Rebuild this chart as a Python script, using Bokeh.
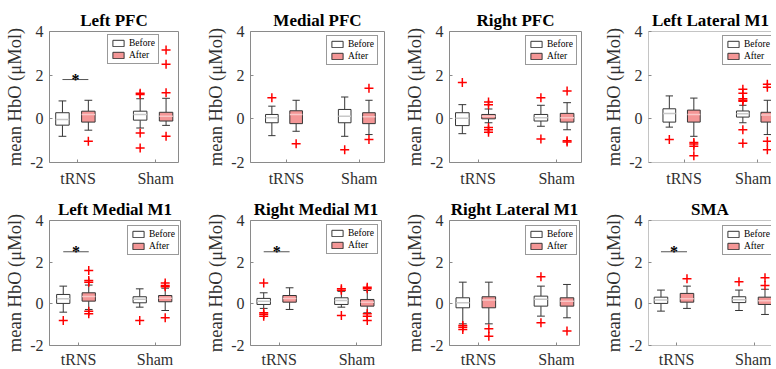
from bokeh.plotting import figure
from bokeh.layouts import gridplot
from bokeh.models import Range1d, FixedTicker, Legend, LegendItem, ColumnDataSource, Span
from bokeh.embed import file_html
from bokeh.resources import INLINE
from bokeh.core.properties import value

# ---------------- data ----------------
TITLES = ["Left PFC", "Medial PFC", "Right PFC", "Left Lateral M1",
          "Left Medial M1", "Right Medial M1", "Right Lateral M1", "SMA"]
GROUP_LABELS = ["tRNS", "Sham"]
GROUP_TICKS = [1.6, 4.6]
CONDITIONS = ["Before", "After"]
# box order: tRNS-Before, tRNS-After, Sham-Before, Sham-After
BOX_POS = [1, 2, 4, 5]
BOX_COND = ["Before", "After", "Before", "After"]
Y_TICKS = [-2, 0, 2, 4]
Y_LABEL = "mean HbO (\u03bcMol)"

# [lower whisker, q1, median, q3, upper whisker]
LEFT_PFC = [[-0.80, -0.29, -0.03, 0.28, 0.82], [-0.52, -0.15, 0.20, 0.35, 0.85],
            [-0.42, -0.06, 0.20, 0.35, 0.92], [-0.30, -0.10, 0.12, 0.30, 0.94]]
LEFT_PFC_OUT = [[], [-1.03], [1.17, 1.12, -0.65, -1.34], [3.15, 2.50, 1.20, -0.80]]

MEDIAL_PFC = [[-0.77, -0.18, 0.05, 0.20, 0.58], [-0.57, -0.22, 0.20, 0.37, 0.85],
              [-0.80, -0.18, 0.12, 0.43, 1.00], [-0.72, -0.22, 0.10, 0.28, 0.85]]
MEDIAL_PFC_OUT = [[0.97], [-1.14], [-1.42], [1.40, -0.95]]

RIGHT_PFC = [[-0.68, -0.31, 0.03, 0.28, 0.65], [-0.18, 0.00, 0.12, 0.20, 0.45],
             [-0.34, -0.10, 0.05, 0.20, 0.62], [-0.50, -0.15, 0.05, 0.25, 0.74]]
RIGHT_PFC_OUT = [[1.66], [0.77, 0.65, -0.40, -0.50, -0.62], [0.97, -0.92], [1.28, -1.00, -1.06]]

LEFT_LAT_M1 = [[-0.38, -0.15, 0.25, 0.46, 1.05], [-0.80, -0.15, 0.20, 0.40, 0.95],
               [-0.18, 0.08, 0.23, 0.36, 0.62], [-0.72, -0.15, 0.18, 0.30, 0.85]]
LEFT_LAT_M1_OUT = [[-0.95], [-1.08, -1.15, -1.26, -1.69],
                   [1.35, 1.17, 0.92, 0.85, 0.80, -0.50, -1.12], [1.58, 1.45, -1.03, -1.42]]

LEFT_MED_M1 = [[-0.40, 0.02, 0.24, 0.45, 0.85], [-0.27, 0.13, 0.35, 0.53, 0.90],
               [-0.16, 0.05, 0.22, 0.34, 0.72], [-0.32, 0.10, 0.27, 0.40, 0.75]]
LEFT_MED_M1_OUT = [[-0.80], [1.60, 1.12, 1.04, -0.35, -0.48], [-0.80], [1.00, 0.88, 0.82, -0.67]]

RIGHT_MED_M1 = [[-0.22, -0.03, 0.13, 0.26, 0.53], [-0.27, 0.08, 0.26, 0.40, 0.77],
                [-0.16, -0.03, 0.16, 0.29, 0.60], [-0.43, -0.11, 0.08, 0.21, 0.64]]
RIGHT_MED_M1_OUT = [[1.00, -0.43, -0.50, -0.60], [], [0.72, 0.65, -0.56], [0.80, 0.72, -0.48, -0.60, -0.80]]

RIGHT_LAT_M1 = [[-0.96, -0.19, 0.05, 0.29, 1.04], [-0.96, -0.19, 0.18, 0.34, 1.04],
                [-0.59, -0.11, 0.22, 0.37, 0.85], [-0.67, -0.11, 0.13, 0.29, 0.93]]
RIGHT_LAT_M1_OUT = [[-1.04, -1.12, -1.23], [-1.20, -1.55], [1.30, -0.91], [-1.30]]

SMA = [[-0.35, 0.02, 0.18, 0.32, 0.66], [-0.22, 0.08, 0.25, 0.50, 0.85],
       [-0.32, 0.06, 0.20, 0.34, 0.66], [-0.51, -0.03, 0.15, 0.32, 0.70]]
SMA_OUT = [[], [1.20], [1.06], [1.25, 0.88]]

STATS = [LEFT_PFC, MEDIAL_PFC, RIGHT_PFC, LEFT_LAT_M1, LEFT_MED_M1, RIGHT_MED_M1, RIGHT_LAT_M1, SMA]
OUTLIERS = [LEFT_PFC_OUT, MEDIAL_PFC_OUT, RIGHT_PFC_OUT, LEFT_LAT_M1_OUT,
            LEFT_MED_M1_OUT, RIGHT_MED_M1_OUT, RIGHT_LAT_M1_OUT, SMA_OUT]
# significance bar (tRNS Before vs After) height, None = no bar
SIG_LEVEL = [1.8, None, None, None, 2.5, 2.5, None, 2.5]

# ---------------- layout / style ----------------
FONT = "Liberation Serif"
X_RANGES = [(0.50, 5.48), (0.12, 5.64), (0.51, 5.55), (0.15, 5.21),
            (0.46, 5.60), (0.49, 5.55), (0.49, 5.48), (0.52, 5.25)]
FW = [129, 134, 132, 124, 131, 131, 130, 123]
FH = [131, 125]
ML = [46, 46, 47, 47, 44, 46, 47, 48]
MR = [23, 18, 19, 0, 23, 21, 21, 0]
MT = [24, 21]
MB = [34, 25]
XSTANDOFF = [7, 5]
LEG_LOC = [(58, 98), (76, 97), (76, 97), (75, 97),
           (78, 90), (76, 91), (76, 90), (74, 90)]

BOX_W = 0.52
CAP_W = 0.30
EDGE = "#353535"
FILL = {"Before": "#ffffff", "After": "#f49696"}
MED = {"Before": "#c8c8c8", "After": "#f9c8c8"}
FRAME = "#8a8a8a"
TXT = "#303030"


def make_panel(i):
    r = i // 4
    c = i % 4
    xs, xe = X_RANGES[i]
    p = figure(frame_width=FW[i], frame_height=FH[r],
               x_range=Range1d(xs, xe), y_range=Range1d(-2, 4),
               output_backend="svg", toolbar_location=None, tools="",
               min_border_left=ML[i], min_border_right=MR[i],
               min_border_top=MT[r], min_border_bottom=MB[r])
    p.background_fill_color = "white"
    p.border_fill_color = "white"
    p.xgrid.visible = False
    p.ygrid.visible = False

    if c == 3:
        # right border is outside the visible window in the reference
        p.outline_line_color = None
        for loc in (-2, 4):
            p.add_layout(Span(location=loc, dimension="width", line_color=FRAME, line_width=1))
        p.add_layout(Span(location=xs, dimension="height", line_color=FRAME, line_width=1))
    else:
        p.outline_line_color = FRAME
        p.outline_line_width = 1

    # title
    p.title.text = TITLES[i]
    p.title.align = "center"
    p.title.text_font = FONT
    p.title.text_font_size = "17px"
    p.title.text_font_style = "bold"
    p.title.text_color = "black"
    p.title.standoff = 3

    # axes
    p.xaxis.ticker = FixedTicker(ticks=GROUP_TICKS)
    p.xaxis.major_label_overrides = {t: l for t, l in zip(GROUP_TICKS, GROUP_LABELS)}
    p.yaxis.ticker = FixedTicker(ticks=Y_TICKS)
    p.yaxis.major_label_overrides = {t: str(t) for t in Y_TICKS}
    for ax in (p.xaxis[0], p.yaxis[0]):
        ax.axis_line_color = None
        ax.major_tick_in = 3
        ax.major_tick_out = 0
        ax.major_tick_line_color = FRAME
        ax.minor_tick_line_color = None
        ax.major_label_text_font = FONT
        ax.major_label_text_font_size = "16px"
        ax.major_label_text_color = TXT
    p.xaxis.major_label_standoff = XSTANDOFF[r]
    p.yaxis.major_label_standoff = 6
    p.yaxis.axis_label = Y_LABEL
    p.yaxis.axis_label_text_font = FONT
    p.yaxis.axis_label_text_font_size = "18.5px"
    p.yaxis.axis_label_text_font_style = "normal"
    p.yaxis.axis_label_text_color = TXT
    p.yaxis.axis_label_standoff = 2

    stats = STATS[i]
    outs = OUTLIERS[i]

    # whiskers + caps
    wx, wy0, wy1 = [], [], []
    cx0, cx1, cy = [], [], []
    for pos, s in zip(BOX_POS, stats):
        lo, q1, med, q3, hi = s
        wx += [pos, pos]
        wy0 += [q3, q1]
        wy1 += [hi, lo]
        cx0 += [pos - CAP_W / 2, pos - CAP_W / 2]
        cx1 += [pos + CAP_W / 2, pos + CAP_W / 2]
        cy += [hi, lo]
    p.segment(x0=wx, y0=wy0, x1=wx, y1=wy1, line_color=EDGE, line_width=1)
    p.segment(x0=cx0, y0=cy, x1=cx1, y1=cy, line_color=EDGE, line_width=1)

    renderers = {}
    for cond in CONDITIONS:
        idx = [k for k, bc in enumerate(BOX_COND) if bc == cond]
        src = ColumnDataSource(dict(
            left=[BOX_POS[k] - BOX_W / 2 for k in idx],
            right=[BOX_POS[k] + BOX_W / 2 for k in idx],
            q1=[stats[k][1] for k in idx],
            med=[stats[k][2] for k in idx],
            q3=[stats[k][3] for k in idx],
        ))
        renderers[cond] = p.quad(left="left", right="right", bottom="q1", top="q3", source=src,
                                 fill_color=FILL[cond], line_color=EDGE, line_width=1)
        p.segment(x0="left", x1="right", y0="med", y1="med", source=src,
                  line_color=MED[cond], line_width=1.5)

    # outliers
    ox, oy = [], []
    for pos, o in zip(BOX_POS, outs):
        ox += [pos] * len(o)
        oy += o
    p.scatter(ox, oy, marker="cross", size=9, line_color="#ff0000", line_width=1.5)

    # significance bar
    lvl = SIG_LEVEL[i]
    if lvl is not None:
        p.segment(x0=[BOX_POS[0]], x1=[BOX_POS[1]], y0=[lvl], y1=[lvl], line_color="#555555", line_width=1)
        p.text(x=[(BOX_POS[0] + BOX_POS[1]) / 2], y=[lvl], text=["*"], text_align="center",
               text_baseline="middle", text_font=value(FONT), text_font_size="16px",
               text_font_style="bold", text_color="black")

    legend = Legend(items=[LegendItem(label=cond, renderers=[renderers[cond]]) for cond in CONDITIONS],
                    location=LEG_LOC[i], orientation="vertical")
    legend.label_text_font = FONT
    legend.label_text_font_size = "9.5px"
    legend.label_text_color = "black"
    legend.glyph_width = 14
    legend.glyph_height = 8
    legend.label_height = 8
    legend.label_standoff = 4
    legend.spacing = 2
    legend.padding = 3
    legend.margin = 0
    legend.border_line_color = "#333333"
    legend.border_line_width = 1
    legend.background_fill_color = "white"
    legend.background_fill_alpha = 1.0
    p.add_layout(legend)
    return p


panels = [make_panel(i) for i in range(8)]
grid = gridplot([panels[:4], panels[4:]], toolbar_location=None)
# nudge the grid so that the panels sit where they sit in the reference;
# the negative bottom margin keeps the page from scrolling
grid.styles = {"margin-top": "7px", "margin-left": "2px", "margin-bottom": "-16px"}

open("out.html", "w").write(file_html(grid, INLINE))
